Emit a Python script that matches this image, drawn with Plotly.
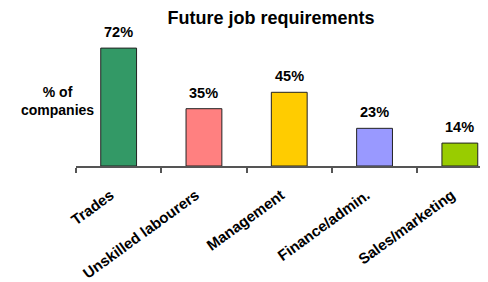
import plotly.graph_objects as go

categories = ["Trades", "Unskilled labourers", "Management", "Finance/admin.", "Sales/marketing"]
values = [72, 35, 45, 23, 14]
labels = ["72%", "35%", "45%", "23%", "14%"]
colors = ["#339966", "#FF8080", "#FFCC00", "#9999FF", "#99CC00"]

font = "Arial, Liberation Sans, sans-serif"

fig = go.Figure()
fig.add_trace(go.Bar(
    x=categories, y=values,
    marker=dict(color=colors, line=dict(color="#222222", width=1)),
    width=0.42,
    hoverinfo="skip",
))

for c, v, t in zip(categories, values, labels):
    fig.add_annotation(x=c, y=v, text="<b>%s</b>" % t, showarrow=False,
                       yanchor="bottom", yshift=6,
                       font=dict(family=font, size=14.5, color="black"))

fig.add_annotation(xref="paper", yref="paper", x=-0.045, y=0.5,
                   text="<b>% of<br>companies</b>", showarrow=False,
                   xanchor="center", yanchor="middle", align="center",
                   font=dict(family=font, size=14, color="black"))

fig.update_layout(
    width=488, height=282,
    margin=dict(l=68, r=8, t=27, b=124),
    paper_bgcolor="white", plot_bgcolor="white",
    showlegend=False,
    title=dict(text="<b>Future job requirements</b>", x=0.539, xanchor="center",
               y=0.965, yanchor="middle",
               font=dict(family=font, size=18, color="black")),
    xaxis=dict(range=[-0.5, 4.33], showline=True, linecolor="#555555", linewidth=1.5,
               ticks="outside", tickson="boundaries", ticklen=5, tickcolor="#555555",
               tickwidth=1.5, tickangle=-36, showgrid=False, fixedrange=True,
               automargin=False, ticklabelstandoff=13, ticklabelshift=-8,
               tickfont=dict(family=font, size=15, color="black"),
               tickvals=categories, ticktext=["<b>%s</b>" % c for c in categories]),
    yaxis=dict(range=[0, 80], visible=False, showgrid=False, fixedrange=True,
               automargin=False),
)

fig.write_html("out.html")
